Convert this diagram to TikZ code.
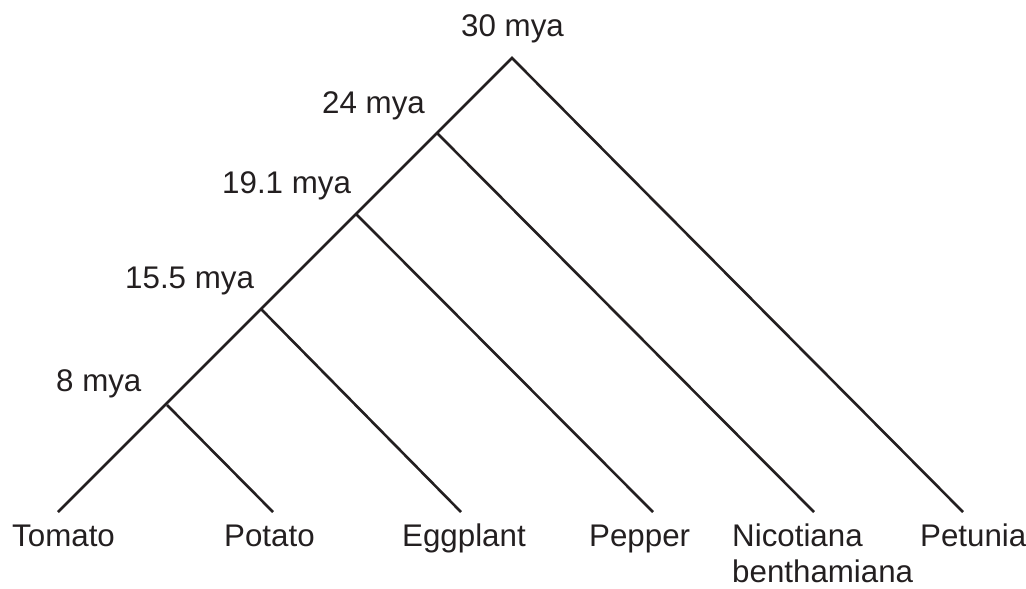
\documentclass[tikz,border=0pt]{standalone}
\usepackage{fontspec}
\setmainfont{Liberation Sans}
\definecolor{ink}{HTML}{231F20}
\begin{document}
\begin{tikzpicture}[x=1pt,y=-1pt,
  branch/.style={draw=ink,line width=2.6pt},
  lbl/.style={inner sep=0pt,anchor=base west,text=ink,font=\fontsize{31.3}{36}\selectfont}]
\useasboundingbox (0,0) rectangle (1026,589);
% internal nodes
\coordinate (n30) at (512,58);
\coordinate (n24) at (437,133);
\coordinate (n19) at (356,214);
\coordinate (n15) at (261,309);
\coordinate (n8) at (167,405);
% tips
\coordinate (tom) at (58,512);
\coordinate (pot) at (273,512);
\coordinate (egg) at (461,512);
\coordinate (pep) at (653,512);
\coordinate (nic) at (814,512);
\coordinate (pet) at (963,512);
% branches
\draw[branch] (tom) -- (n30) -- (pet);
\draw[branch] (n24) -- (nic);
\draw[branch] (n19) -- (pep);
\draw[branch] (n15) -- (egg);
\draw[branch] (n8) -- (pot);
% node labels
\node[lbl] (l30) at (461,36) {30 mya};
\node[lbl] (l24) at (322,113) {24 mya};
\node[lbl] (l19) at (222,193) {19.1 mya};
\node[lbl] (l15) at (125,288) {15.5 mya};
\node[lbl] (l8) at (56,391) {8 mya};
% tip labels
\node[lbl] (ltom) at (12,546) {Tomato};
\node[lbl] (lpot) at (224,546) {Potato};
\node[lbl] (legg) at (402,546) {Eggplant};
\node[lbl] (lpep) at (589,546) {Pepper};
\node[lbl] (lnic) at (732,546) {Nicotiana};
\node[lbl] (lben) at (732,582) {benthamiana};
\node[lbl] (lpet) at (920,546) {Petunia};
\end{tikzpicture}
\end{document}
